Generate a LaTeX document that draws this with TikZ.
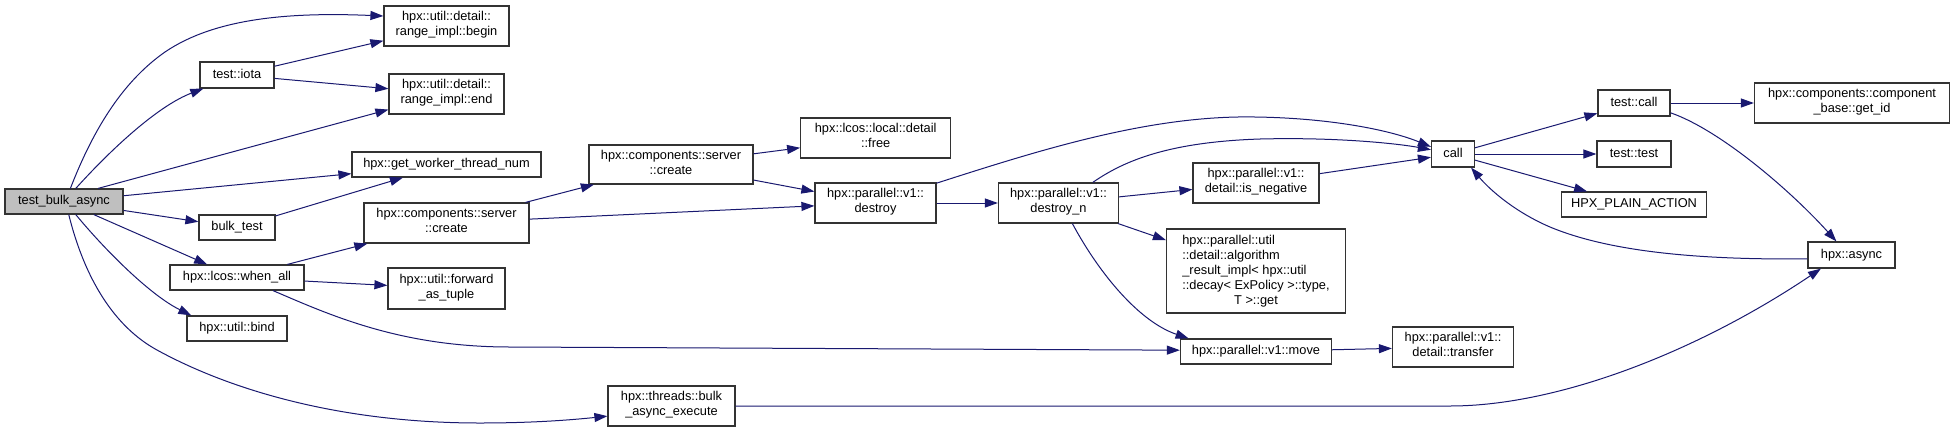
\documentclass[tikz,border=0pt]{standalone}
\usepackage{fontspec}
\setmainfont{Liberation Sans}
\usetikzlibrary{arrows.meta}
\definecolor{edgeblue}{HTML}{191970}
\definecolor{boxline}{HTML}{333333}
\definecolor{rootfill}{HTML}{BFBFBF}
\tikzset{
  box/.style={draw=boxline, fill=white, line width=1.2pt, inner sep=0pt, align=center,
    font=\fontsize{12.8}{15}\selectfont,
    execute at begin node=\strut, execute at end node=\strut},
  edge/.style={draw=edgeblue, line width=1pt, -{Triangle[length=13pt,width=9pt]}}
}
\begin{document}
\begin{tikzpicture}[x=1pt, y=-1pt]
\useasboundingbox (0,0) rectangle (1955,432);
\fill[white] (0,0) rectangle (1955,432);
% nodes
\node[box, fill=rootfill, minimum width=118pt, minimum height=25pt] (tba) at (64,201.5) {test\_bulk\_async};
\node[box, minimum width=125pt, minimum height=40pt] (begin) at (446.5,26) {hpx::util::detail::\\range\_impl::begin};
\node[box, minimum width=74pt, minimum height=26pt] (iota) at (237,75) {test::iota};
\node[box, minimum width=115pt, minimum height=40pt] (end) at (446.5,94) {hpx::util::detail::\\range\_impl::end};
\node[box, minimum width=189pt, minimum height=25pt] (gwtn) at (446.5,164.5) {hpx::get\_worker\_thread\_num};
\node[box, minimum width=76pt, minimum height=25pt] (bulktest) at (237,227.5) {bulk\_test};
\node[box, minimum width=165pt, minimum height=40pt] (createA) at (446.5,223) {hpx::components::server\\::create};
\node[box, minimum width=134pt, minimum height=25pt] (whenall) at (237,277.5) {hpx::lcos::when\_all};
\node[box, minimum width=117pt, minimum height=41pt] (fwd) at (446.5,288.5) {hpx::util::forward\\\_as\_tuple};
\node[box, minimum width=100pt, minimum height=25pt] (bind) at (237,328.5) {hpx::util::bind};
\node[box, minimum width=127pt, minimum height=40pt] (bae) at (671.5,406) {hpx::threads::bulk\\\_async\_execute};
\node[box, minimum width=164pt, minimum height=39pt] (createB) at (671,164.5) {hpx::components::server\\::create};
\node[box, minimum width=150pt, minimum height=40pt] (free) at (875.7,138) {hpx::lcos::local::detail\\::free};
\node[box, minimum width=121pt, minimum height=40pt] (destroy) at (875.5,203) {hpx::parallel::v1::\\destroy};
\node[box, minimum width=120pt, minimum height=40pt] (destroyn) at (1058.5,203) {hpx::parallel::v1::\\destroy\_n};
\node[box, minimum width=126pt, minimum height=40pt] (isneg) at (1256,183) {hpx::parallel::v1::\\detail::is\_negative};
\node[draw=boxline, fill=white, line width=1.2pt, inner sep=0pt, font=\fontsize{12.8}{15}\selectfont,
  minimum width=179pt, minimum height=84pt] (algo) at (1256,271)
  {\begin{tabular}{@{}l@{}}hpx::parallel::util\\::detail::algorithm\\\_result\_impl< hpx::util\\::decay< ExPolicy >::type,\\\multicolumn{1}{@{}c@{}}{T >::get}\end{tabular}};
\node[box, minimum width=151pt, minimum height=25pt] (move) at (1256,351.5) {hpx::parallel::v1::move};
\node[box, minimum width=43pt, minimum height=26pt] (call) at (1453,154) {call};
\node[box, minimum width=72pt, minimum height=26pt] (testcall) at (1634,103) {test::call};
\node[box, minimum width=195pt, minimum height=40pt] (getid) at (1852,103) {hpx::components::component\\\_base::get\_id};
\node[box, minimum width=74pt, minimum height=26pt] (testtest) at (1634,154) {test::test};
\node[box, minimum width=145pt, minimum height=25pt] (hpa) at (1634,204.5) {HPX\_PLAIN\_ACTION};
\node[box, minimum width=87pt, minimum height=26pt] (async) at (1851.5,255) {hpx::async};
\node[box, minimum width=121pt, minimum height=40pt] (transfer) at (1453,347) {hpx::parallel::v1::\\detail::transfer};
% edges
\draw[edge] (tba.64) .. controls (95,125) and (125,80) .. (165,52) .. controls (215,18) and (290,12) .. (begin.171);
\draw[edge] (tba.48) .. controls (115,145) and (160,105) .. (iota.202);
\draw[edge] (tba.21) -- (end.195);
\draw[edge] (iota) -- (begin);
\draw[edge] (iota) -- (end);
\draw[edge] (tba) -- (gwtn);
\draw[edge] (tba) -- (bulktest);
\draw[edge] (bulktest) -- (gwtn);
\draw[edge] (tba) -- (whenall);
\draw[edge] (tba.312) .. controls (105,250) and (150,295) .. (bind.164);
\draw[edge] (tba.290) .. controls (85,280) and (115,327) .. (157,350) .. controls (230,390) and (340,423) .. (480,423) .. controls (540,423) and (580,419) .. (bae.189);
\draw[edge] (whenall) -- (createA);
\draw[edge] (whenall) -- (fwd);
\draw[edge] (whenall.340) .. controls (330,315) and (400,347) .. (510,347) -- (move.179);
\draw[edge] (createA) -- (createB);
\draw[edge] (createA) -- (destroy);
\draw[edge] (createB) -- (free);
\draw[edge] (createB) -- (destroy);
\draw[edge] (destroy) -- (destroyn);
\draw[edge] (destroy.18) .. controls (1040,150) and (1150,115) .. (1255,117) .. controls (1330,118) and (1390,130) .. (call.162);
\draw[edge] (destroyn.31) .. controls (1125,160) and (1170,142) .. (1260,139) .. controls (1340,137) and (1400,144) .. (call.169);
\draw[edge] (destroyn) -- (isneg);
\draw[edge] (destroyn) -- (algo);
\draw[edge] (destroyn.304) .. controls (1100,275) and (1140,322) .. (move.169);
\draw[edge] (isneg) -- (call);
\draw[edge] (move) -- (transfer);
\draw[edge] (call) -- (testcall);
\draw[edge] (call) -- (testtest);
\draw[edge] (call) -- (hpa);
\draw[edge] (testcall) -- (getid);
\draw[edge] (testcall.345) .. controls (1720,130) and (1790,190) .. (async.138);
\draw[edge] (async.185) .. controls (1700,260) and (1610,252) .. (1550,227) .. controls (1515,212) and (1490,190) .. (call.323);
\draw[edge] (bae) -- (1450,406) .. controls (1560,406) and (1700,350) .. (async.204);
\end{tikzpicture}
\end{document}
